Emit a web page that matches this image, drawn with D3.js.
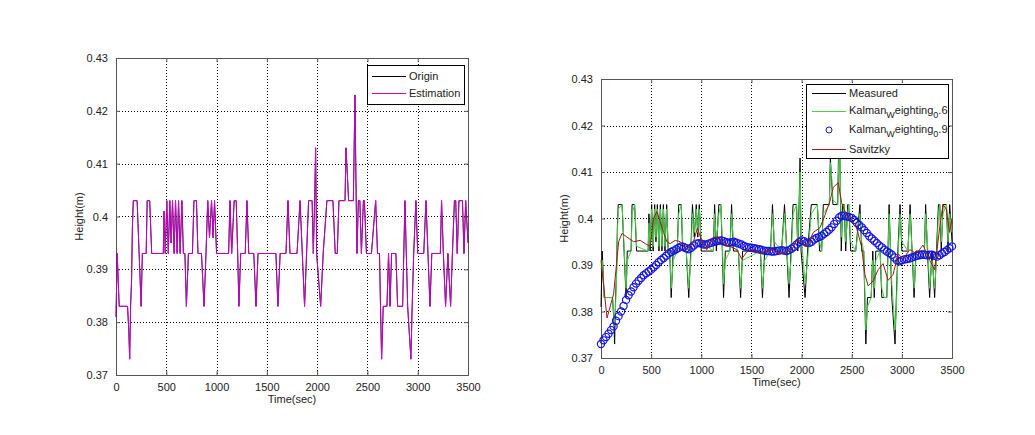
<!DOCTYPE html>
<html>
<head>
<meta charset="utf-8">
<script src="https://cdn.jsdelivr.net/npm/d3@7"></script>
<style>
  body { margin: 0; background: #fff; }
  text { font-family: Arial, "Liberation Sans", sans-serif; font-size: 11px; fill: #222; }
</style>
</head>
<body>
<svg id="chart" width="1035" height="435"></svg>
<script>
// tick labels
const xTicks = [0, 500, 1000, 1500, 2000, 2500, 3000, 3500];
const yTicks = [0.37, 0.38, 0.39, 0.4, 0.41, 0.42, 0.43];

// measured height (also "Origin" on the left)
const measuredTime = [
  0, 12, 22, 32, 115, 128, 136, 145, 155, 163,
  172, 210, 220, 230, 240, 250, 262, 300, 310, 335,
  345, 355, 470, 478, 490, 505, 520, 535, 548, 562,
  578, 592, 608, 622, 638, 655, 670, 685, 700, 720,
  760, 775, 800, 815, 850, 875, 895, 912, 930, 950,
  965, 980, 1000, 1120, 1133, 1150, 1175, 1195, 1210, 1222,
  1240, 1285, 1302, 1320, 1370, 1392, 1412, 1590, 1610, 1632,
  1690, 1710, 1730, 1800, 1830, 1875, 1895, 1915, 1950, 1962,
  1975, 1985, 1995, 2035, 2060, 2097, 2157, 2180, 2200, 2217,
  2277, 2287, 2300, 2313, 2360, 2376, 2385, 2396, 2410, 2425,
  2440, 2460, 2470, 2490, 2540, 2582, 2600, 2620, 2630, 2641,
  2657, 2694, 2710, 2725, 2740, 2783, 2800, 2823, 2850, 2873,
  2900, 2932, 2945, 2960, 2982, 3000, 3060, 3082, 3122, 3140,
  3225, 3237, 3255, 3277, 3300, 3327, 3345, 3365, 3378, 3393,
  3410, 3445, 3460, 3477, 3500
];
const measuredHeight = [
  0.381, 0.393, 0.388, 0.383, 0.383, 0.378, 0.373, 0.383, 0.388, 0.398,
  0.403, 0.403, 0.398, 0.393, 0.388, 0.383, 0.393, 0.393, 0.403, 0.403,
  0.398, 0.393, 0.393, 0.401, 0.393, 0.403, 0.393, 0.403, 0.395, 0.403,
  0.393, 0.403, 0.393, 0.403, 0.393, 0.403, 0.393, 0.393, 0.383, 0.393,
  0.393, 0.403, 0.403, 0.393, 0.393, 0.383, 0.393, 0.403, 0.396, 0.403,
  0.396, 0.403, 0.393, 0.393, 0.403, 0.393, 0.403, 0.403, 0.393, 0.383,
  0.393, 0.393, 0.403, 0.393, 0.393, 0.383, 0.393, 0.393, 0.383, 0.393,
  0.393, 0.403, 0.393, 0.393, 0.403, 0.383, 0.393, 0.403, 0.403, 0.393,
  0.403, 0.413, 0.393, 0.383, 0.393, 0.403, 0.403, 0.393, 0.393, 0.403,
  0.403, 0.413, 0.408, 0.403, 0.403, 0.423, 0.408, 0.393, 0.403, 0.403,
  0.393, 0.403, 0.403, 0.393, 0.393, 0.403, 0.393, 0.393, 0.383, 0.373,
  0.383, 0.383, 0.393, 0.383, 0.393, 0.393, 0.383, 0.383, 0.383, 0.403,
  0.383, 0.373, 0.383, 0.393, 0.403, 0.393, 0.393, 0.403, 0.383, 0.393,
  0.393, 0.403, 0.393, 0.383, 0.393, 0.383, 0.393, 0.403, 0.403, 0.393,
  0.403, 0.403, 0.393, 0.403, 0.395
];

// Kalman weighting 0.6 (same sample times as measured)
const kalman06Height = [
  0.389, 0.391, 0.387, 0.383, 0.383, 0.379, 0.377, 0.381, 0.387, 0.396,
  0.402, 0.403, 0.399, 0.394, 0.389, 0.385, 0.391, 0.393, 0.401, 0.403,
  0.399, 0.394, 0.393, 0.399, 0.394, 0.402, 0.394, 0.402, 0.396, 0.402,
  0.394, 0.402, 0.394, 0.402, 0.394, 0.402, 0.394, 0.393, 0.385, 0.391,
  0.393, 0.401, 0.403, 0.395, 0.393, 0.385, 0.391, 0.401, 0.397, 0.402,
  0.397, 0.402, 0.395, 0.393, 0.401, 0.395, 0.401, 0.403, 0.395, 0.386,
  0.391, 0.393, 0.401, 0.395, 0.393, 0.385, 0.391, 0.393, 0.385, 0.391,
  0.393, 0.401, 0.395, 0.393, 0.401, 0.386, 0.391, 0.401, 0.403, 0.395,
  0.401, 0.410, 0.397, 0.386, 0.391, 0.401, 0.403, 0.395, 0.393, 0.401,
  0.403, 0.412, 0.409, 0.404, 0.403, 0.417, 0.410, 0.396, 0.401, 0.403,
  0.395, 0.401, 0.403, 0.395, 0.393, 0.401, 0.395, 0.393, 0.385, 0.376,
  0.381, 0.383, 0.391, 0.385, 0.391, 0.393, 0.385, 0.383, 0.383, 0.401,
  0.386, 0.376, 0.381, 0.391, 0.401, 0.395, 0.393, 0.401, 0.385, 0.391,
  0.393, 0.401, 0.395, 0.385, 0.391, 0.385, 0.391, 0.401, 0.403, 0.395,
  0.401, 0.403, 0.395, 0.401, 0.397
];

// Kalman weighting 0.9, one value every 25 s
const kalman09Step = 25;
const kalman09Height = [
  0.3730, 0.3738, 0.3745, 0.3752, 0.3760, 0.3768, 0.3780, 0.3790, 0.3800, 0.3812,
  0.3825, 0.3835, 0.3843, 0.3852, 0.3860, 0.3866, 0.3872, 0.3878, 0.3882, 0.3886,
  0.3890, 0.3895, 0.3900, 0.3906, 0.3911, 0.3915, 0.3920, 0.3925, 0.3928, 0.3931,
  0.3934, 0.3937, 0.3940, 0.3939, 0.3936, 0.3934, 0.3937, 0.3942, 0.3946, 0.3947,
  0.3946, 0.3944, 0.3944, 0.3946, 0.3948, 0.3950, 0.3951, 0.3952, 0.3953, 0.3951,
  0.3949, 0.3948, 0.3949, 0.3950, 0.3948, 0.3946, 0.3944, 0.3941, 0.3939, 0.3938,
  0.3937, 0.3936, 0.3935, 0.3934, 0.3933, 0.3931, 0.3930, 0.3930, 0.3929, 0.3929,
  0.3930, 0.3931, 0.3932, 0.3931, 0.3930, 0.3932, 0.3935, 0.3939, 0.3944, 0.3949,
  0.3953, 0.3951, 0.3948, 0.3947, 0.3950, 0.3955, 0.3958, 0.3960, 0.3963, 0.3967,
  0.3971, 0.3976, 0.3981, 0.3988, 0.3995, 0.4002, 0.4006, 0.4006, 0.4004, 0.4003,
  0.4001, 0.3997, 0.3991, 0.3986, 0.3981, 0.3975, 0.3969, 0.3962, 0.3957, 0.3952,
  0.3947, 0.3942, 0.3938, 0.3933, 0.3929, 0.3926, 0.3922, 0.3916, 0.3910, 0.3908,
  0.3910, 0.3912, 0.3913, 0.3914, 0.3916, 0.3918, 0.3920, 0.3921, 0.3922, 0.3922,
  0.3921, 0.3922, 0.3922, 0.3920, 0.3918, 0.3921, 0.3925, 0.3928, 0.3932, 0.3936,
  0.3940
];

// Savitzky-Golay smoothing
const savitzkyTime = [
  0, 60, 126, 176, 209, 259, 325, 391, 441, 491,
  524, 557, 590, 624, 657, 690, 740, 790, 856, 922,
  962, 1005, 1055, 1121, 1171, 1221, 1287, 1354, 1403, 1453,
  1519, 1586, 1652, 1718, 1785, 1851, 1918, 1951, 2001, 2051,
  2117, 2183, 2233, 2283, 2316, 2366, 2399, 2449, 2498, 2548,
  2598, 2631, 2664, 2714, 2764, 2813, 2863, 2913, 2963, 3013,
  3079, 3145, 3211, 3278, 3327, 3377, 3410, 3443, 3476, 3500
];
const savitzkyHeight = [
  0.391, 0.3786, 0.3838, 0.395, 0.3968, 0.396, 0.395, 0.3953, 0.3946, 0.394,
  0.400, 0.4015, 0.3993, 0.397, 0.395, 0.3946, 0.3953, 0.395, 0.3933, 0.395,
  0.398, 0.395, 0.3933, 0.396, 0.396, 0.3946, 0.394, 0.3933, 0.3913, 0.3928,
  0.3933, 0.3924, 0.393, 0.3933, 0.3924, 0.3928, 0.3938, 0.3955, 0.395, 0.394,
  0.397, 0.398, 0.4007, 0.4037, 0.4067, 0.4077, 0.4034, 0.4007, 0.3993, 0.398,
  0.394, 0.388, 0.3855, 0.3866, 0.389, 0.3903, 0.3867, 0.388, 0.3924, 0.3913,
  0.3933, 0.3924, 0.3943, 0.391, 0.389, 0.398, 0.403, 0.402, 0.397, 0.400
];

const svg = d3.select("#chart");

// build one MATLAB-style axes box, return its scales
function makeAxes(box) {
  const x = d3.scaleLinear().domain([0, 3500]).range([box.left, box.right]);
  const y = d3.scaleLinear().domain([0.37, 0.43]).range([box.bottom, box.top]);
  const g = svg.append("g");

  // dotted grid
  g.selectAll(".gx").data(xTicks).enter().append("line")
    .attr("x1", (d) => Math.round(x(d)) + 0.5).attr("x2", (d) => Math.round(x(d)) + 0.5)
    .attr("y1", box.top).attr("y2", box.bottom)
    .attr("stroke", "#000").attr("stroke-dasharray", "1,2").attr("stroke-width", 1);
  g.selectAll(".gy").data(yTicks).enter().append("line")
    .attr("y1", (d) => Math.round(y(d)) + 0.5).attr("y2", (d) => Math.round(y(d)) + 0.5)
    .attr("x1", box.left).attr("x2", box.right)
    .attr("stroke", "#000").attr("stroke-dasharray", "1,2").attr("stroke-width", 1);

  // ticks point inward, on all four sides
  const plain = (d) => String(d);
  const bottom = g.append("g").attr("transform", `translate(0,${box.bottom})`)
    .call(d3.axisBottom(x).tickValues(xTicks).tickSize(-4).tickPadding(8).tickFormat(plain));
  const top = g.append("g").attr("transform", `translate(0,${box.top})`)
    .call(d3.axisTop(x).tickValues(xTicks).tickSize(-4).tickFormat(""));
  const left = g.append("g").attr("transform", `translate(${box.left},0)`)
    .call(d3.axisLeft(y).tickValues(yTicks).tickSize(-4).tickPadding(8).tickFormat(plain));
  const right = g.append("g").attr("transform", `translate(${box.right},0)`)
    .call(d3.axisRight(y).tickValues(yTicks).tickSize(-4).tickFormat(""));
  [bottom, top, left, right].forEach((a) => {
    a.select(".domain").attr("stroke", "#555");
    a.selectAll(".tick line").attr("stroke", "#555");
    a.selectAll("text").attr("font-size", 11).attr("font-family", "Arial, 'Liberation Sans', sans-serif").attr("fill", "#222");
  });

  g.append("text").attr("x", (box.left + box.right) / 2).attr("y", box.bottom + 28)
    .attr("text-anchor", "middle").text("Time(sec)");
  g.append("text")
    .attr("transform", `translate(${box.left - 33},${(box.top + box.bottom) / 2}) rotate(-90)`)
    .attr("text-anchor", "middle").text("Height(m)");
  return { x, y };
}

/** left chart **/
const leftBox = { left: 116, right: 468, top: 58, bottom: 375 };
const L = makeAxes(leftBox);
const lineL = d3.line().x((d) => L.x(d[0])).y((d) => L.y(d[1]));
const measuredPts = measuredTime.map((t, i) => [t, measuredHeight[i]]);

svg.append("path").datum(measuredPts).attr("d", lineL)
  .attr("fill", "none").attr("stroke", "#000").attr("stroke-width", 1);
svg.append("path").datum(measuredPts).attr("d", lineL)
  .attr("fill", "none").attr("stroke", "#f000f0").attr("stroke-width", 1).attr("stroke-opacity", 0.8);

// left legend
const legL = svg.append("g");
legL.append("rect").attr("x", 367.5).attr("y", 65.5).attr("width", 97).attr("height", 39)
  .attr("fill", "#fff").attr("stroke", "#000");
legL.append("line").attr("x1", 372).attr("x2", 406).attr("y1", 76.5).attr("y2", 76.5).attr("stroke", "#000");
legL.append("text").attr("x", 409).attr("y", 80).text("Origin");
legL.append("line").attr("x1", 372).attr("x2", 406).attr("y1", 93.5).attr("y2", 93.5).attr("stroke", "#d000d0");
legL.append("text").attr("x", 409).attr("y", 97).text("Estimation");

/** right chart **/
const rightBox = { left: 601, right: 952, top: 79, bottom: 358 };
const R = makeAxes(rightBox);
const lineR = d3.line().x((d) => R.x(d[0])).y((d) => R.y(d[1]));

svg.append("path").datum(measuredPts).attr("d", lineR)
  .attr("fill", "none").attr("stroke", "#000").attr("stroke-width", 1);
svg.append("path").datum(measuredTime.map((t, i) => [t, kalman06Height[i]])).attr("d", lineR)
  .attr("fill", "none").attr("stroke", "#44d444").attr("stroke-width", 1);
svg.append("g").selectAll("circle")
  .data(kalman09Height).enter().append("circle")
  .attr("cx", (d, i) => R.x(i * kalman09Step))
  .attr("cy", (d) => R.y(d))
  .attr("r", 3.6)
  .attr("fill", "none").attr("stroke", "#1414dc").attr("stroke-width", 1.2);
svg.append("path").datum(savitzkyTime.map((t, i) => [t, savitzkyHeight[i]])).attr("d", lineR)
  .attr("fill", "none").attr("stroke", "#a01818").attr("stroke-width", 1);

// right legend (TeX style subscripts as in the original)
const legR = svg.append("g");
legR.append("rect").attr("x", 806.5).attr("y", 84.5).attr("width", 142).attr("height", 74)
  .attr("fill", "#fff").attr("stroke", "#000");
const legendRows = [
  { y: 93, kind: "line", color: "#000" },
  { y: 111, kind: "line", color: "#44d444" },
  { y: 130, kind: "circle", color: "#1414dc" },
  { y: 149, kind: "line", color: "#a01818" }
];
legendRows.forEach((r) => {
  if (r.kind === "line") {
    legR.append("line").attr("x1", 812).attr("x2", 846).attr("y1", r.y + 0.5).attr("y2", r.y + 0.5).attr("stroke", r.color);
  } else {
    legR.append("circle").attr("cx", 829).attr("cy", r.y).attr("r", 3).attr("fill", "none").attr("stroke", r.color);
  }
});
legR.append("text").attr("x", 849).attr("y", 97).text("Measured");
function kalmanLabel(y, last) {
  const t = legR.append("text").attr("x", 849).attr("y", y);
  t.append("tspan").text("Kalman");
  t.append("tspan").attr("dy", 4).attr("font-size", 9).text("W");
  t.append("tspan").attr("dy", -4).text("eighting");
  t.append("tspan").attr("dy", 4).attr("font-size", 9).text("0");
  t.append("tspan").attr("dy", -4).text("." + last);
}
kalmanLabel(114, "6");
kalmanLabel(133, "9");
legR.append("text").attr("x", 849).attr("y", 153).text("Savitzky");
</script>
</body>
</html>
